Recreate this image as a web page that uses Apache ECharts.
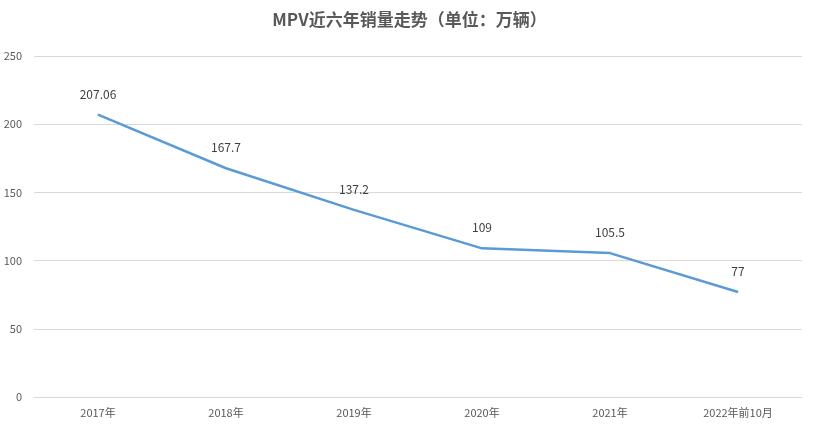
<!DOCTYPE html>
<html><head><meta charset="utf-8">
<script src="https://cdn.jsdelivr.net/npm/echarts@6/dist/echarts.min.js"></script>
<style>html,body{margin:0;padding:0;background:#fff}#c{width:819px;height:432px}</style>
</head><body><div id="c"></div>
<script>
const categories = ['2017年','2018年','2019年','2020年','2021年','2022年前10月'];
const sales = [207.06, 167.7, 137.2, 109, 105.5, 77];
const titleText = 'MPV近六年销量走势（单位：万辆）';
const chart = echarts.init(document.getElementById('c'));
chart.setOption({
  animation:false,
  textStyle:{fontFamily:'Noto Sans CJK SC'},
  title:{text:titleText,left:'center',top:6,textStyle:{fontSize:17,fontWeight:'bold',color:'#595959',fontFamily:'Noto Sans CJK SC'}},
  grid:{left:34,width:768,top:56,bottom:35},
  xAxis:{type:'category',data:categories,boundaryGap:true,
    axisLine:{lineStyle:{color:'#d9d9d9'}},axisTick:{show:false},
    axisLabel:{color:'#595959',fontSize:11,margin:10}},
  yAxis:{type:'value',min:0,max:250,interval:50,
    axisLine:{show:false},axisTick:{show:false},
    axisLabel:{color:'#595959',fontSize:11,margin:12},
    splitLine:{lineStyle:{color:'#d9d9d9'}}},
  series:[{type:'line',data:sales,showSymbol:true,symbol:'circle',symbolSize:1,
    lineStyle:{color:'#5b9bd5',width:2.5},itemStyle:{color:'#5b9bd5'},
    label:{show:true,position:'top',distance:14,color:'#404040',fontSize:12}}]
});
</script></body></html>
